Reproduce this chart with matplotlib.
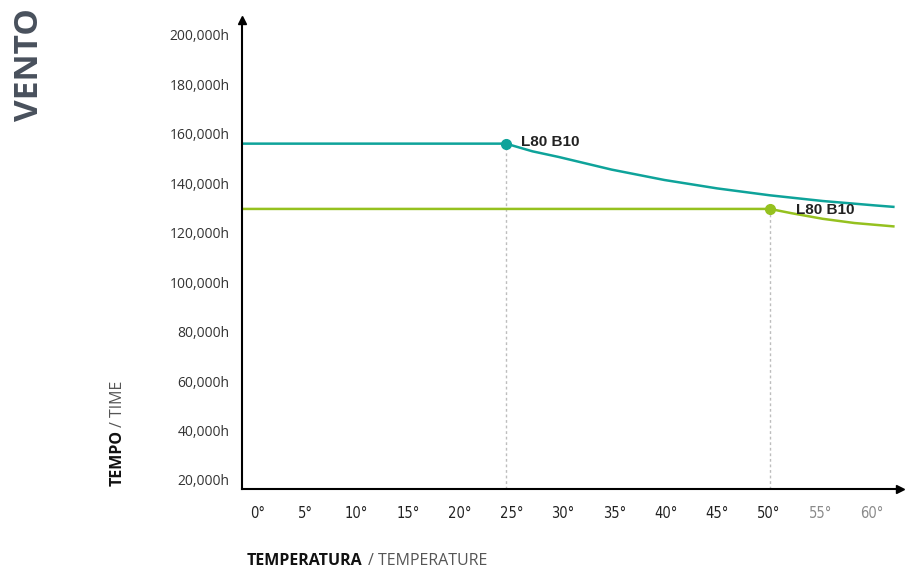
import matplotlib
matplotlib.use("Agg")
import matplotlib.pyplot as plt
import matplotlib.transforms as mtransforms

# data (degrees C, hours)
teal_temp = [0, 25, 27.5, 30, 35, 40, 45, 50, 55, 60, 61.8]
teal_hours = [156000, 156000, 152900, 150600, 145500, 141300, 137900, 135100, 132800, 131000, 130400]
green_temp = [0, 50, 52, 55, 58, 61.8]
green_hours = [129600, 129600, 127900, 125600, 123900, 122500]
marker_temp = [25, 50]
marker_hours = [156000, 129600]
marker_label = ["L80 B10", "L80 B10"]

y_ticks = [20000, 40000, 60000, 80000, 100000, 120000, 140000, 160000, 180000, 200000]
x_ticks = [0, 5, 10, 15, 20, 25, 30, 35, 40, 45, 50, 55, 60]

TEAL = "#0ea39a"
GREEN = "#95c11f"
DARK = "#222222"
GREY = "#8a8a8a"

plt.rcParams["font.family"] = ["Open Sans", "DejaVu Sans"]

fig = plt.figure(figsize=(9.05, 5.74), dpi=100)
ax = fig.add_axes([242 / 905, 1 - 489 / 574, (900 - 242) / 905, (489 - 20) / 574])
ax.set_xlim(0, (900 - 242) / 10.56)
ax.set_ylim(16340, 206000)

ax.plot(teal_temp, teal_hours, color=TEAL, lw=1.8, solid_capstyle="butt")
ax.plot(green_temp, green_hours, color=GREEN, lw=1.8, solid_capstyle="butt")
for t, h, c in zip(marker_temp, marker_hours, [TEAL, GREEN]):
    ax.plot([t, t], [16340, h], color="#bdbdbd", lw=1, ls=(0, (2, 2)), zorder=1)
    ax.plot(t, h, "o", color=c, ms=7, zorder=4)
for t, h, s, off in zip(marker_temp, marker_hours, marker_label, [(11, 1.5), (19, -0.5)]):
    ax.annotate(s, (t, h), xytext=off, textcoords="offset points", fontsize=11,
                fontweight="bold", color=DARK, va="center", ha="left",
                family=["Liberation Sans", "DejaVu Sans"])

for side in ["top", "right"]:
    ax.spines[side].set_visible(False)
ax.spines["left"].set_linewidth(1.5)
ax.spines["bottom"].set_linewidth(1.5)
ax.plot(1, 0, ">k", ms=6, transform=ax.transAxes, clip_on=False)
ax.plot(0, 1, "^k", ms=6, transform=ax.transAxes, clip_on=False)

ax.set_yticks(y_ticks)
ax.set_yticklabels([f"{v:,}h" for v in y_ticks], fontsize=10, color="#333333")
ax.tick_params(axis="y", length=0, pad=9)
ax.set_xticks(x_ticks)
ax.set_xticklabels([f"{v}°" for v in x_ticks], fontsize=10.5,
                   family=["DejaVu Sans"], fontstretch="condensed")
ax.tick_params(axis="x", length=0, pad=12)
for i, lab in enumerate(ax.get_xticklabels()):
    lab.set_color(GREY if x_ticks[i] > 50 else DARK)
    shift = 16 if i == 0 else 11.5 - 0.25 * x_ticks[i]
    lab.set_transform(lab.get_transform() + mtransforms.ScaledTranslation(shift / 100, 0, fig.dpi_scale_trans))

fig.text(30 / 905, 1 - 65 / 574, "VENTO", rotation=90, fontsize=24, fontweight="bold",
         color="#48505c", ha="center", va="center")

renderer = fig.canvas.get_renderer()
# y axis title: bold part + light part
t1 = fig.text(118 / 905, 1 - 486 / 574, "TEMPO", rotation=90, fontsize=11.5, fontweight="bold",
              color="#111111", ha="center", va="bottom")
bb = t1.get_window_extent(renderer).transformed(fig.transFigure.inverted())
fig.text(118 / 905, bb.y1 + 0.006, "/ TIME", rotation=90, fontsize=11.5, color="#555555",
         ha="center", va="bottom")
# x axis title
t2 = fig.text(247 / 905, 1 - 561 / 574, "TEMPERATURA", fontsize=11.5, fontweight="bold",
              color="#111111", ha="left", va="center")
bb = t2.get_window_extent(renderer).transformed(fig.transFigure.inverted())
fig.text(bb.x1 + 0.006, 1 - 561 / 574, "/ TEMPERATURE", fontsize=11.5, color="#555555",
         ha="left", va="center")

fig.savefig("out.png", dpi=100)
